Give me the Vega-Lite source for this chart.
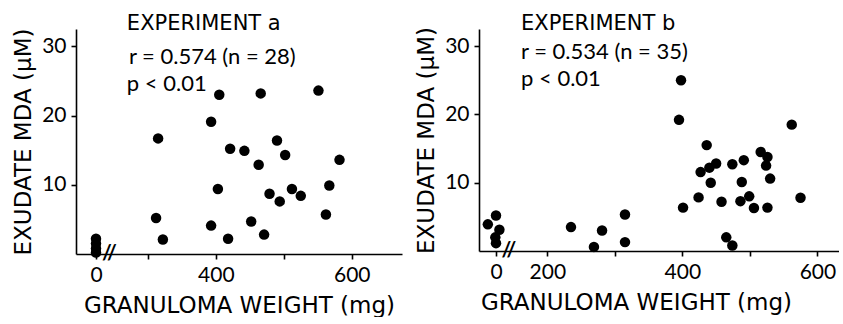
{
  "$schema": "https://vega.github.io/schema/vega-lite/v6.json",
  "background": "white",
  "padding": {"left": 12, "top": 12, "right": 0, "bottom": 0},
  "bounds": "flush",
  "spacing": 77,
  "config": {
    "font": "Lato",
    "view": {"stroke": null},
    "axis": {
      "grid": false,
      "domainColor": "black",
      "domainWidth": 1.6,
      "tickColor": "black",
      "tickWidth": 1.6,
      "tickSize": 5,
      "labelFont": "Lato",
      "labelFontSize": 21,
      "labelColor": "black",
      "labelPadding": 5,
      "titleFont": "DejaVu Sans",
      "titleFontSize": 23,
      "titleFontWeight": "normal",
      "titleColor": "black"
    },
    "text": {"color": "black"}
  },
  "datasets": {
    "a": [
      {"weight": 0, "mda": 2.2}, {"weight": 0, "mda": 1.5}, {"weight": 0, "mda": 0.8}, {"weight": 0, "mda": 0.2},
      {"weight": 405, "mda": 23.0}, {"weight": 393, "mda": 19.1}, {"weight": 315, "mda": 16.7}, {"weight": 421, "mda": 15.2},
      {"weight": 403, "mda": 9.4}, {"weight": 312, "mda": 5.2}, {"weight": 393, "mda": 4.1}, {"weight": 322, "mda": 2.1},
      {"weight": 418, "mda": 2.2}, {"weight": 466, "mda": 23.2}, {"weight": 551, "mda": 23.6}, {"weight": 490, "mda": 16.4},
      {"weight": 442, "mda": 14.9}, {"weight": 502, "mda": 14.3}, {"weight": 582, "mda": 13.6}, {"weight": 463, "mda": 12.9},
      {"weight": 567, "mda": 9.9}, {"weight": 512, "mda": 9.4}, {"weight": 525, "mda": 8.4}, {"weight": 479, "mda": 8.7},
      {"weight": 494, "mda": 7.6}, {"weight": 562, "mda": 5.7}, {"weight": 452, "mda": 4.7}, {"weight": 471, "mda": 2.8}
    ],
    "b": [
      {"weight": -12, "mda": 3.9}, {"weight": 0, "mda": 5.2}, {"weight": 5, "mda": 3.1}, {"weight": -1, "mda": 2.0}, {"weight": 0, "mda": 1.15},
      {"weight": 235, "mda": 3.5}, {"weight": 281, "mda": 3.0}, {"weight": 269, "mda": 0.6}, {"weight": 315, "mda": 5.35}, {"weight": 315, "mda": 1.3},
      {"weight": 398, "mda": 25.0}, {"weight": 395, "mda": 19.2}, {"weight": 562, "mda": 18.5}, {"weight": 436, "mda": 15.5}, {"weight": 516, "mda": 14.5},
      {"weight": 526, "mda": 13.75}, {"weight": 524, "mda": 12.5}, {"weight": 427, "mda": 11.55}, {"weight": 440, "mda": 12.2}, {"weight": 450, "mda": 12.8},
      {"weight": 474, "mda": 12.7}, {"weight": 491, "mda": 13.3}, {"weight": 530, "mda": 10.6}, {"weight": 442, "mda": 10.0}, {"weight": 488, "mda": 10.1},
      {"weight": 575, "mda": 7.8}, {"weight": 424, "mda": 7.85}, {"weight": 401, "mda": 6.35}, {"weight": 458, "mda": 7.2}, {"weight": 486, "mda": 7.3},
      {"weight": 499, "mda": 8.0}, {"weight": 506, "mda": 6.3}, {"weight": 526, "mda": 6.35}, {"weight": 465, "mda": 2.0}, {"weight": 474, "mda": 0.8}
    ],
    "ha": [{"weight": 269, "mda": 32.3, "label": "EXPERIMENT a"}],
    "sa": [
      {"weight": 272, "mda": 27.4, "label": "r = 0.574 (n = 28)"},
      {"weight": 269, "mda": 23.6, "label": "p < 0.01"}
    ],
    "hb": [{"weight": 161, "mda": 32.4, "label": "EXPERIMENT b"}],
    "sb": [
      {"weight": 161, "mda": 28.1, "label": "r = 0.534 (n = 35)"},
      {"weight": 161, "mda": 24.1, "label": "p < 0.01"}
    ],
    "ba": [{"weight": 20, "mda": 0, "label": "//"}],
    "bb": [{"weight": 19, "mda": 0, "label": "//"}]
  },
  "hconcat": [
    {
      "width": 326,
      "height": 225,
      "encoding": {
        "x": {
          "field": "weight", "type": "quantitative",
          "scale": {"domain": [-30, 30, 253, 674], "range": [0, 40, 40, 326], "nice": false, "zero": false},
          "axis": {"title": "GRANULOMA WEIGHT (mg)", "values": [0, 300, 400, 500, 600],
                   "labelExpr": "datum.value == 300 || datum.value == 500 ? '' : datum.label", "titlePadding": 9}
        },
        "y": {
          "field": "mda", "type": "quantitative",
          "scale": {"domain": [0, 32.5], "nice": false},
          "axis": {"title": "EXUDATE MDA (μM)", "values": [10, 20, 30], "titlePadding": 6}
        }
      },
      "layer": [
        {"data": {"name": "a"}, "mark": {"type": "circle", "size": 110, "color": "black", "opacity": 1}},
        {"data": {"name": "ha"}, "mark": {"type": "text", "align": "left", "baseline": "alphabetic", "font": "DejaVu Sans", "fontSize": 21}, "encoding": {"text": {"field": "label"}}},
        {"data": {"name": "sa"}, "mark": {"type": "text", "align": "left", "baseline": "alphabetic", "font": "Lato", "fontSize": 22}, "encoding": {"text": {"field": "label"}}},
        {"data": {"name": "ba"}, "mark": {"type": "text", "align": "center", "baseline": "middle", "font": "Lato", "fontSize": 21, "fontWeight": "bold"}, "encoding": {"text": {"field": "label"}}}
      ]
    },
    {
      "width": 360,
      "height": 222,
      "encoding": {
        "x": {
          "field": "weight", "type": "quantitative",
          "scale": {"domain": [-25, 25, 158, 632], "range": [0, 34, 40, 360], "nice": false, "zero": false},
          "axis": {"title": "GRANULOMA WEIGHT (mg)", "values": [0, 200, 300, 400, 500, 600],
                   "labelExpr": "datum.value == 300 || datum.value == 500 ? '' : datum.label", "titlePadding": 9,
                   "titleX": 157, "titleAlign": "center"}
        },
        "y": {
          "field": "mda", "type": "quantitative",
          "scale": {"domain": [0, 32.5], "nice": false},
          "axis": {"title": "EXUDATE MDA (μM)", "values": [10, 20, 30], "titlePadding": 6}
        }
      },
      "layer": [
        {"data": {"name": "b"}, "mark": {"type": "circle", "size": 110, "color": "black", "opacity": 1}},
        {"data": {"name": "hb"}, "mark": {"type": "text", "align": "left", "baseline": "alphabetic", "font": "DejaVu Sans", "fontSize": 21}, "encoding": {"text": {"field": "label"}}},
        {"data": {"name": "sb"}, "mark": {"type": "text", "align": "left", "baseline": "alphabetic", "font": "Lato", "fontSize": 22}, "encoding": {"text": {"field": "label"}}},
        {"data": {"name": "bb"}, "mark": {"type": "text", "align": "center", "baseline": "middle", "font": "Lato", "fontSize": 21, "fontWeight": "bold"}, "encoding": {"text": {"field": "label"}}}
      ]
    }
  ]
}
